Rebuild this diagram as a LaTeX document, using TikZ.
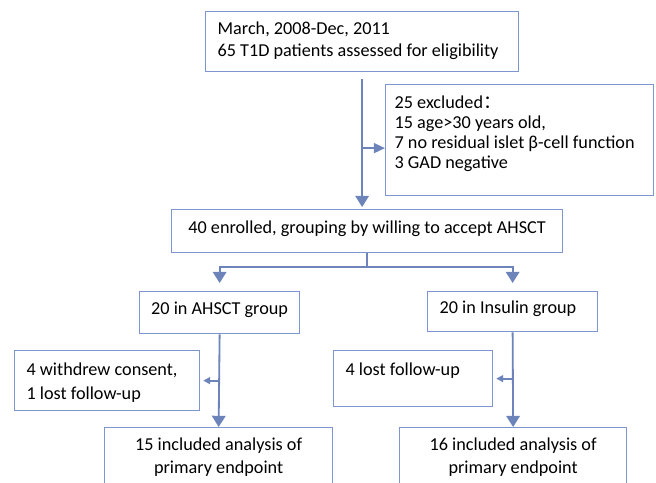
\documentclass[tikz,border=0pt]{standalone}
\usepackage{fontspec}
\setmainfont{Carlito}
\newfontfamily\cjk{Noto Sans CJK SC}
\usetikzlibrary{arrows.meta}
\definecolor{boxline}{RGB}{125,150,210}
\definecolor{arrline}{RGB}{108,132,186}
\begin{document}
\begin{tikzpicture}[
  font=\fontsize{12.95}{16.4}\selectfont,
  box/.style={draw=boxline,line width=0.9pt,anchor=north west,inner ysep=0pt},
  lbox/.style={box,align=flush left,inner xsep=0.3cm},
  cbox/.style={box,align=center,inner xsep=0pt},
  link/.style={draw=arrline,line width=1.3pt},
  arr/.style={link,-{Triangle[length=0.28cm,width=0.34cm]}},
  arrs/.style={link,-{Triangle[length=0.17cm,width=0.17cm]},shorten >=0.075cm}]
  \useasboundingbox (0,0) rectangle (16.4,-12.075);
  \clip (0,0) rectangle (16.4,-12.075);
  \node[lbox,text width=7.225cm,text height=0.58cm,text depth=0.92cm,
    font=\fontsize{12.95}{15.7}\selectfont] (start) at (5.125,-0.275)
    {March, 2008-Dec, 2011\\65 T1D patients assessed for eligibility};
  \node[lbox,text width=6.25cm,inner xsep=0.225cm,text height=0.595cm,text depth=2.18cm,
    font=\fontsize{12.95}{14.2}\selectfont] (excl) at (9.625,-2.1)
    {25 excluded{\cjk ：}\\15 age>30 years old,\\7 no residual islet β-cell function\\3 GAD negative};
  \node[cbox,minimum width=9.775cm,text height=0.595cm,text depth=0.48cm] (enrol) at (4.275,-5.225)
    {40 enrolled, grouping by willing to accept AHSCT};
  \node[cbox,minimum width=4cm,text height=0.57cm,text depth=0.48cm] (ahsct) at (3.475,-7.275)
    {20 in AHSCT group};
  \node[lbox,text width=3.65cm,text height=0.545cm,text depth=0.455cm] (insul) at (10.675,-7.275)
    {20 in Insulin group};
  \node[lbox,text width=4.025cm,text height=0.62cm,text depth=0.88cm,
    font=\fontsize{12.95}{17.1}\selectfont] (wdraw) at (0.35,-8.75)
    {4 withdrew consent,\\1 lost follow-up};
  \node[lbox,text width=3.375cm,text height=0.62cm,text depth=0.78cm] (lost) at (8.325,-8.75)
    {4 lost follow-up};
  \node[cbox,minimum width=5.7cm,minimum height=1.475cm] (anaA) at (2.6,-10.675)
    {15 included analysis of\\primary endpoint};
  \node[cbox,minimum width=5.675cm,minimum height=1.475cm] (anaB) at (9.975,-10.675)
    {16 included analysis of\\primary endpoint};

  \draw[arr,shorten >=0.05cm] ([yshift=-0.175cm]start.south) -- (start.south |- enrol.north);
  \coordinate (exin) at ([yshift=-0.2cm]excl.west);
  \draw[link,-{Triangle[length=0.28cm,width=0.25cm]}] (exin -| start.south) -- (exin);
  \draw[link] (enrol.south) -- ++(0,-0.35) coordinate (fork);
  \draw[arr,shorten >=0.2cm] (fork) -| (ahsct.north);
  \draw[arr,shorten >=0.2cm] (fork) -| (insul.north);
  \draw[arr] (ahsct.south) -- (anaA.north);
  \draw[arrs] (ahsct.south |- wdraw.east) -- (wdraw.east);
  \draw[arr] (insul.south) -- (anaB.north);
  \draw[arrs] (insul.south |- lost.east) -- (lost.east);
\end{tikzpicture}
\end{document}
